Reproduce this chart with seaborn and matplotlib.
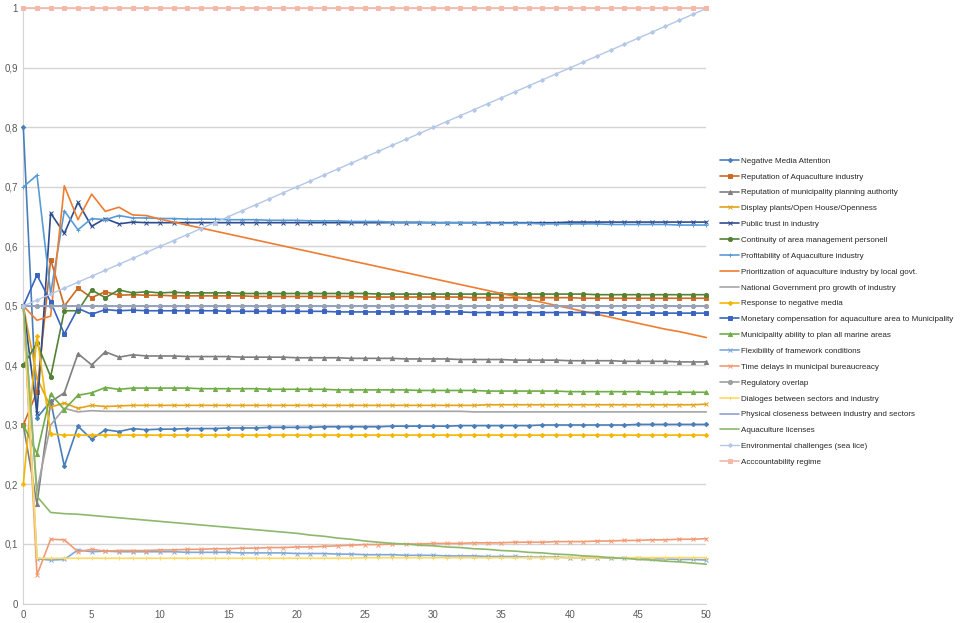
import matplotlib
matplotlib.use("Agg")
import matplotlib.pyplot as plt
from matplotlib import font_manager
from matplotlib.ticker import FuncFormatter
import seaborn as sns

# Simulation steps on the x axis
steps = list(range(51))

neg_media = [0.800, 0.312, 0.340, 0.231, 0.298, 0.276, 0.292, 0.289, 0.294, 0.292,
             0.293, 0.293, 0.294, 0.294, 0.294, 0.295, 0.295, 0.295, 0.296, 0.296,
             0.296, 0.296, 0.297, 0.297, 0.297, 0.297, 0.297, 0.298, 0.298, 0.298,
             0.298, 0.298, 0.299, 0.299, 0.299, 0.299, 0.299, 0.299, 0.300, 0.300,
             0.300, 0.300, 0.300, 0.300, 0.300, 0.301, 0.301, 0.301, 0.301, 0.301, 0.301]
rep_aqua = [0.300, 0.356, 0.578, 0.500, 0.530, 0.514, 0.524, 0.518, 0.519, 0.518,
            0.518, 0.517, 0.517, 0.517, 0.517, 0.517, 0.517, 0.516, 0.516, 0.516,
            0.516, 0.516, 0.516, 0.516, 0.516, 0.515, 0.515, 0.515, 0.515, 0.515,
            0.515, 0.515, 0.515, 0.514, 0.514, 0.514, 0.514, 0.514, 0.514, 0.514,
            0.514, 0.513, 0.513, 0.513, 0.513, 0.513, 0.513, 0.513, 0.513, 0.513, 0.513]
rep_muni = [0.300, 0.167, 0.339, 0.354, 0.420, 0.401, 0.423, 0.414, 0.418, 0.416,
            0.416, 0.416, 0.415, 0.415, 0.415, 0.415, 0.414, 0.414, 0.414, 0.414,
            0.413, 0.413, 0.413, 0.413, 0.412, 0.412, 0.412, 0.412, 0.411, 0.411,
            0.411, 0.411, 0.410, 0.410, 0.410, 0.410, 0.409, 0.409, 0.409, 0.409,
            0.408, 0.408, 0.408, 0.408, 0.407, 0.407, 0.407, 0.407, 0.406, 0.406, 0.406]
display_plants = [0.500, 0.379, 0.330, 0.337, 0.328, 0.333, 0.331, 0.332, 0.333, 0.333,
                  0.333, 0.333, 0.333, 0.333, 0.333, 0.333, 0.333, 0.333, 0.333, 0.333,
                  0.333, 0.333, 0.333, 0.333, 0.333, 0.333, 0.333, 0.333, 0.333, 0.333,
                  0.333, 0.333, 0.333, 0.333, 0.334, 0.334, 0.334, 0.334, 0.334, 0.334,
                  0.334, 0.334, 0.334, 0.334, 0.334, 0.334, 0.334, 0.334, 0.334, 0.334, 0.335]
public_trust = [0.500, 0.320, 0.656, 0.622, 0.674, 0.634, 0.647, 0.638, 0.641, 0.640,
                0.640, 0.640, 0.640, 0.640, 0.640, 0.640, 0.640, 0.640, 0.640, 0.640,
                0.640, 0.640, 0.640, 0.640, 0.640, 0.640, 0.640, 0.640, 0.640, 0.640,
                0.640, 0.640, 0.640, 0.640, 0.640, 0.640, 0.640, 0.640, 0.640, 0.640,
                0.641, 0.641, 0.641, 0.641, 0.641, 0.641, 0.641, 0.641, 0.641, 0.641, 0.641]
continuity = [0.400, 0.438, 0.381, 0.492, 0.492, 0.527, 0.514, 0.527, 0.522, 0.524,
              0.522, 0.523, 0.522, 0.522, 0.522, 0.522, 0.521, 0.521, 0.521, 0.521,
              0.521, 0.521, 0.521, 0.521, 0.521, 0.521, 0.520, 0.520, 0.520, 0.520,
              0.520, 0.520, 0.520, 0.520, 0.520, 0.520, 0.520, 0.520, 0.520, 0.520,
              0.520, 0.520, 0.519, 0.519, 0.519, 0.519, 0.519, 0.519, 0.519, 0.519, 0.519]
profitability = [0.700, 0.720, 0.521, 0.660, 0.628, 0.647, 0.645, 0.652, 0.648, 0.648,
                 0.647, 0.647, 0.646, 0.646, 0.646, 0.645, 0.645, 0.645, 0.644, 0.644,
                 0.644, 0.643, 0.643, 0.643, 0.642, 0.642, 0.642, 0.641, 0.641, 0.641,
                 0.640, 0.640, 0.640, 0.640, 0.639, 0.639, 0.639, 0.639, 0.638, 0.638,
                 0.638, 0.638, 0.638, 0.637, 0.637, 0.637, 0.637, 0.637, 0.636, 0.636, 0.636]
prioritization = [0.500, 0.476, 0.483, 0.702, 0.645, 0.688, 0.659, 0.666, 0.653, 0.652,
                  0.646, 0.641, 0.636, 0.631, 0.626, 0.621, 0.616, 0.611, 0.606, 0.601,
                  0.596, 0.591, 0.586, 0.581, 0.576, 0.571, 0.566, 0.561, 0.556, 0.551,
                  0.546, 0.541, 0.536, 0.531, 0.526, 0.521, 0.516, 0.511, 0.506, 0.501,
                  0.496, 0.491, 0.486, 0.481, 0.476, 0.471, 0.466, 0.461, 0.457, 0.452, 0.447]
national_gov = [0.500, 0.190, 0.300, 0.328, 0.322, 0.324, 0.323, 0.323, 0.323, 0.323,
                0.323, 0.323, 0.323, 0.323, 0.323, 0.323, 0.323, 0.323, 0.323, 0.323,
                0.323, 0.323, 0.323, 0.323, 0.323, 0.323, 0.323, 0.323, 0.323, 0.323,
                0.323, 0.323, 0.323, 0.322, 0.322, 0.322, 0.322, 0.322, 0.322, 0.322,
                0.322, 0.322, 0.322, 0.322, 0.322, 0.322, 0.322, 0.322, 0.322, 0.322, 0.322]
response_media = [0.200, 0.450, 0.285, 0.283, 0.283, 0.283, 0.283, 0.283, 0.283, 0.283,
                  0.283, 0.283, 0.283, 0.283, 0.283, 0.283, 0.283, 0.283, 0.283, 0.283,
                  0.283, 0.283, 0.283, 0.283, 0.283, 0.283, 0.283, 0.283, 0.283, 0.283,
                  0.283, 0.283, 0.283, 0.283, 0.283, 0.283, 0.283, 0.283, 0.283, 0.283,
                  0.283, 0.283, 0.283, 0.283, 0.283, 0.283, 0.283, 0.283, 0.283, 0.283, 0.283]
monetary = [0.500, 0.552, 0.507, 0.453, 0.496, 0.486, 0.494, 0.492, 0.493, 0.492,
            0.492, 0.492, 0.492, 0.492, 0.492, 0.491, 0.491, 0.491, 0.491, 0.491,
            0.491, 0.491, 0.491, 0.490, 0.490, 0.490, 0.490, 0.490, 0.490, 0.490,
            0.490, 0.490, 0.490, 0.489, 0.489, 0.489, 0.489, 0.489, 0.489, 0.489,
            0.489, 0.489, 0.489, 0.488, 0.488, 0.488, 0.488, 0.488, 0.488, 0.488, 0.488]
muni_ability = [0.300, 0.252, 0.352, 0.326, 0.350, 0.354, 0.363, 0.360, 0.362, 0.362,
                0.362, 0.362, 0.362, 0.361, 0.361, 0.361, 0.361, 0.361, 0.360, 0.360,
                0.360, 0.360, 0.360, 0.359, 0.359, 0.359, 0.359, 0.359, 0.359, 0.358,
                0.358, 0.358, 0.358, 0.358, 0.357, 0.357, 0.357, 0.357, 0.357, 0.357,
                0.356, 0.356, 0.356, 0.356, 0.356, 0.356, 0.355, 0.355, 0.355, 0.355, 0.355]
flexibility = [0.500, 0.075, 0.073, 0.074, 0.090, 0.087, 0.088, 0.087, 0.087, 0.087,
               0.087, 0.087, 0.086, 0.086, 0.086, 0.086, 0.085, 0.085, 0.085, 0.085,
               0.084, 0.084, 0.084, 0.083, 0.083, 0.082, 0.082, 0.082, 0.081, 0.081,
               0.081, 0.080, 0.080, 0.080, 0.079, 0.079, 0.079, 0.078, 0.078, 0.078,
               0.077, 0.077, 0.077, 0.076, 0.076, 0.076, 0.075, 0.075, 0.074, 0.074, 0.073]
time_delays = [0.500, 0.048, 0.108, 0.107, 0.087, 0.091, 0.088, 0.089, 0.089, 0.089,
               0.090, 0.090, 0.091, 0.091, 0.092, 0.092, 0.093, 0.093, 0.094, 0.094,
               0.095, 0.095, 0.096, 0.097, 0.098, 0.099, 0.099, 0.100, 0.100, 0.100,
               0.101, 0.101, 0.101, 0.102, 0.102, 0.102, 0.103, 0.103, 0.103, 0.104,
               0.104, 0.104, 0.105, 0.105, 0.106, 0.106, 0.107, 0.107, 0.108, 0.108, 0.109]
regulatory = [0.500, 0.500, 0.500, 0.500, 0.500, 0.500, 0.500, 0.500, 0.500, 0.500,
              0.500, 0.500, 0.500, 0.500, 0.500, 0.500, 0.500, 0.500, 0.500, 0.500,
              0.500, 0.500, 0.500, 0.500, 0.500, 0.500, 0.500, 0.500, 0.500, 0.500,
              0.500, 0.500, 0.500, 0.500, 0.500, 0.500, 0.500, 0.500, 0.500, 0.500,
              0.500, 0.500, 0.500, 0.500, 0.500, 0.500, 0.500, 0.500, 0.500, 0.500, 0.500]
dialoges = [0.500, 0.076, 0.076, 0.076, 0.076, 0.076, 0.076, 0.076, 0.076, 0.076,
            0.076, 0.076, 0.076, 0.076, 0.076, 0.076, 0.076, 0.076, 0.076, 0.076,
            0.076, 0.076, 0.076, 0.076, 0.076, 0.077, 0.077, 0.077, 0.077, 0.077,
            0.077, 0.077, 0.077, 0.077, 0.077, 0.077, 0.077, 0.077, 0.077, 0.077,
            0.077, 0.077, 0.077, 0.077, 0.077, 0.077, 0.077, 0.077, 0.077, 0.077, 0.077]
physical = [0.500, 0.500, 0.500, 0.500, 0.500, 0.500, 0.500, 0.500, 0.500, 0.500,
            0.500, 0.500, 0.500, 0.500, 0.500, 0.500, 0.500, 0.500, 0.500, 0.500,
            0.500, 0.500, 0.500, 0.500, 0.500, 0.500, 0.500, 0.500, 0.500, 0.500,
            0.500, 0.500, 0.500, 0.500, 0.500, 0.500, 0.500, 0.500, 0.500, 0.500,
            0.500, 0.500, 0.500, 0.500, 0.500, 0.500, 0.500, 0.500, 0.500, 0.500, 0.500]
licenses = [0.500, 0.180, 0.153, 0.151, 0.150, 0.148, 0.146, 0.144, 0.142, 0.140,
            0.138, 0.136, 0.134, 0.132, 0.130, 0.128, 0.126, 0.124, 0.122, 0.120,
            0.118, 0.115, 0.113, 0.110, 0.108, 0.105, 0.103, 0.101, 0.100, 0.098,
            0.097, 0.095, 0.094, 0.092, 0.091, 0.089, 0.088, 0.086, 0.085, 0.083,
            0.082, 0.080, 0.079, 0.077, 0.076, 0.074, 0.073, 0.071, 0.070, 0.068, 0.066]
environmental = [0.50, 0.51, 0.52, 0.53, 0.54, 0.55, 0.56, 0.57, 0.58, 0.59,
                 0.60, 0.61, 0.62, 0.63, 0.64, 0.65, 0.66, 0.67, 0.68, 0.69,
                 0.70, 0.71, 0.72, 0.73, 0.74, 0.75, 0.76, 0.77, 0.78, 0.79,
                 0.80, 0.81, 0.82, 0.83, 0.84, 0.85, 0.86, 0.87, 0.88, 0.89,
                 0.90, 0.91, 0.92, 0.93, 0.94, 0.95, 0.96, 0.97, 0.98, 0.99, 1.00]
accountability = [1.0, 1.0, 1.0, 1.0, 1.0, 1.0, 1.0, 1.0, 1.0, 1.0,
                  1.0, 1.0, 1.0, 1.0, 1.0, 1.0, 1.0, 1.0, 1.0, 1.0,
                  1.0, 1.0, 1.0, 1.0, 1.0, 1.0, 1.0, 1.0, 1.0, 1.0,
                  1.0, 1.0, 1.0, 1.0, 1.0, 1.0, 1.0, 1.0, 1.0, 1.0,
                  1.0, 1.0, 1.0, 1.0, 1.0, 1.0, 1.0, 1.0, 1.0, 1.0, 1.0]

labels = [
    "Negative Media Attention",
    "Reputation of Aquaculture industry",
    "Reputation of municipality planning authority",
    "Display plants/Open House/Openness",
    "Public trust in industry",
    "Continuity of area management personell",
    "Profitability of Aquaculture industry",
    "Prioritization of aquaculture industry by local govt.",
    "National Government pro growth of industry",
    "Response to negative media",
    "Monetary compensation for aquaculture area to Municipality",
    "Municipality ability to plan all marine areas",
    "Flexibility of framework conditions",
    "Time delays in municipal bureaucreacy",
    "Regulatory overlap",
    "Dialoges between sectors and industry",
    "Physical closeness between industry and sectors",
    "Aquaculture licenses",
    "Environmental challenges (sea lice)",
    "Acccountability regime",
]
series = [neg_media, rep_aqua, rep_muni, display_plants, public_trust, continuity,
          profitability, prioritization, national_gov, response_media, monetary,
          muni_ability, flexibility, time_delays, regulatory, dialoges, physical,
          licenses, environmental, accountability]

colors = ["#4A7EBB", "#CC6A24", "#7F7F7F", "#E3A21A", "#2E4D8E", "#548235",
          "#5B9BD5", "#ED7D31", "#A5A5A5", "#F2B705", "#3A64C0", "#70AD47",
          "#7FA8D8", "#F19B73", "#A0A0A0", "#FFD966", "#8EA2C8", "#8DB86B",
          "#B4C7E7", "#F4B8A8"]
markers = ["D", "s", "^", "x", "x", "o", "+", None, None, "D",
           "s", "^", "x", "x", "o", "+", None, None, "D", "s"]
msizes = [2.2, 3, 3, 2.5, 2.5, 3, 2.5, 0, 0, 2.2, 3, 3, 2.5, 2.5, 3, 2.5, 0, 0, 2.0, 3]
widths = [1.2] * 18 + [1.0, 1.2]

sns.set_style("white")
names = {f.name for f in font_manager.fontManager.ttflist}
fam = "Liberation Sans Narrow" if "Liberation Sans Narrow" in names else "Liberation Sans"
plt.rcParams["font.family"] = [fam, "DejaVu Sans"]

fig = plt.figure(figsize=(9.64, 6.23), dpi=100)
ax = fig.add_axes([0.0242, 0.0313, 0.7085, 0.9551])

for i in range(len(series)):
    sns.lineplot(x=steps, y=series[i], ax=ax, color=colors[i], marker=markers[i],
                 markersize=msizes[i], markeredgecolor=colors[i], markeredgewidth=0.7,
                 linewidth=widths[i], label=labels[i], clip_on=False, zorder=3)

ax.set_xlim(0, 50)
ax.set_ylim(0, 1)
ax.set_xticks(range(0, 51, 5))
ax.set_yticks([i / 10 for i in range(11)])
ax.yaxis.set_major_formatter(FuncFormatter(
    lambda v, p: "0" if v == 0 else ("1" if v == 1 else f"{v:.1f}".replace(".", ","))))
ax.grid(axis="y", color="#D4D4D4", linewidth=1.0)
ax.grid(axis="x", visible=False)
for s in ["top", "right"]:
    ax.spines[s].set_visible(False)
ax.spines["left"].set_color("#D4D4D4")
ax.spines["bottom"].set_color("#D4D4D4")
ax.tick_params(axis="x", length=3, color="#D4D4D4", labelsize=7, labelcolor="#595959", pad=2)
ax.tick_params(axis="y", length=0, labelsize=7, labelcolor="#595959", pad=4)
ax.set_xlabel("")
ax.set_ylabel("")

handles, labs = ax.get_legend_handles_labels()
ax.get_legend().remove()
order = [labs.index(l) for l in labels]
fig.legend([handles[k] for k in order], labels, loc="center left",
           bbox_to_anchor=(0.744, 0.5), frameon=False, fontsize=5.8,
           labelspacing=1.02, handlelength=2.3, handletextpad=0.25, borderaxespad=0)

plt.savefig("out.png", dpi=100)
